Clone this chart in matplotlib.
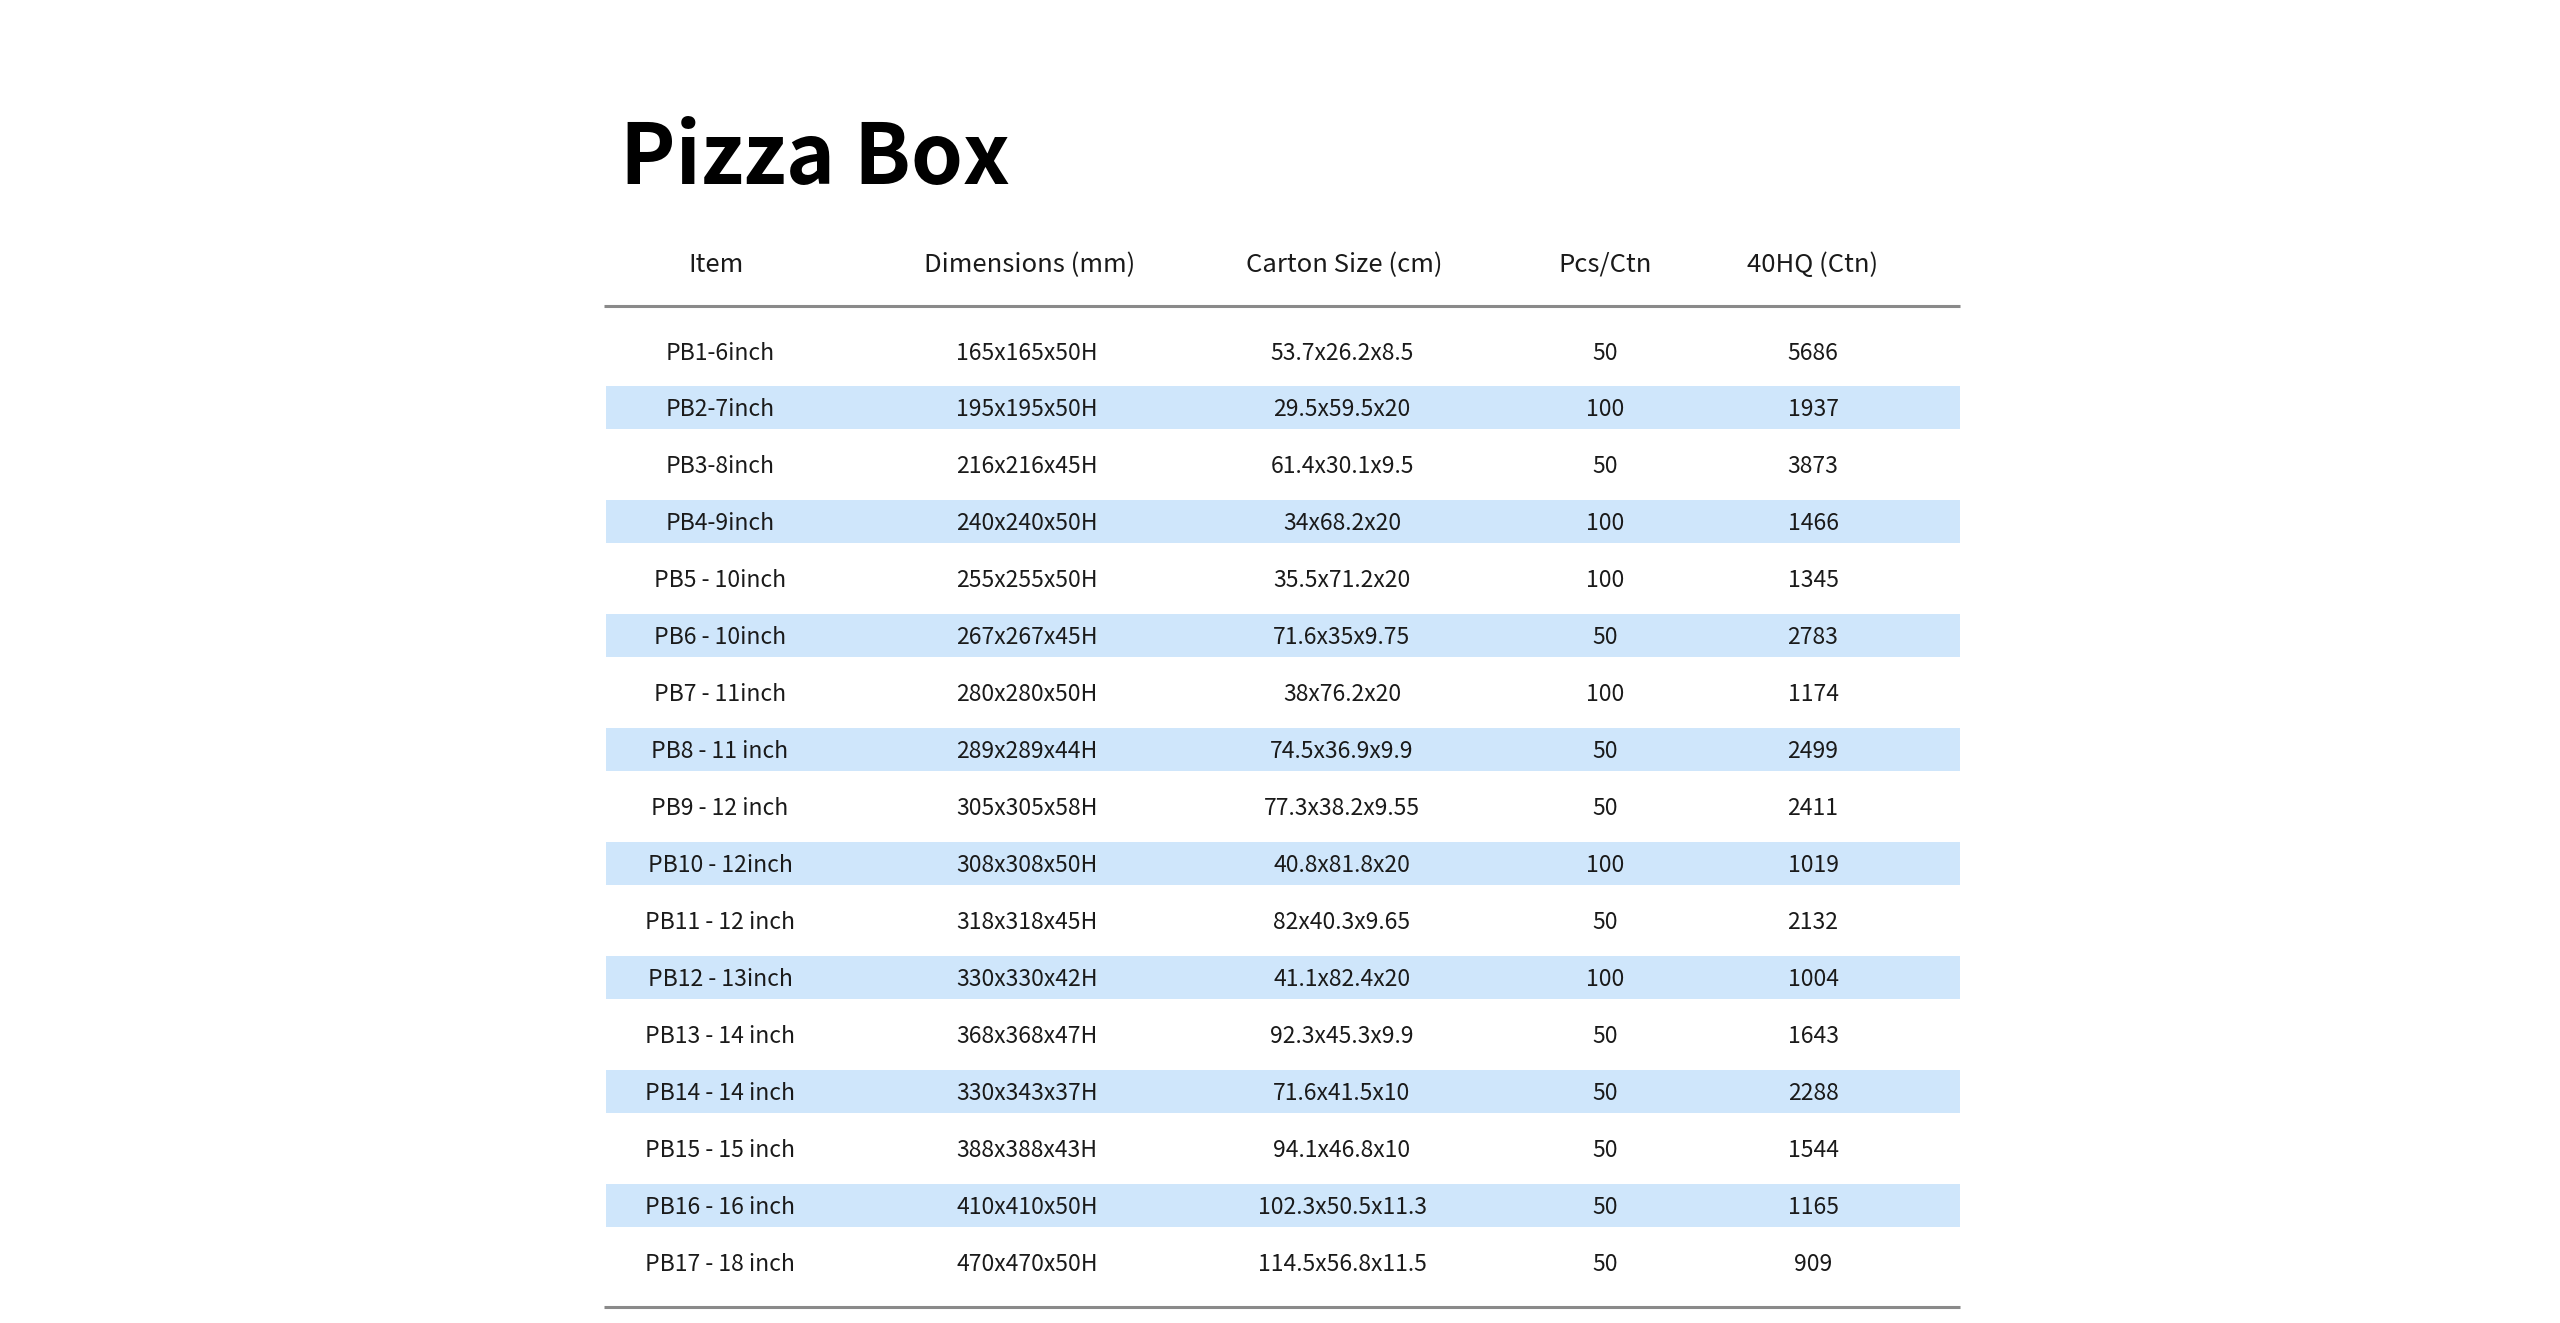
import matplotlib.pyplot as plt

plt.rcParams['font.family'] = ['Noto Sans CJK SC', 'DejaVu Sans']

title = 'Pizza Box'
headers = ['Item', 'Dimensions (mm)', 'Carton Size (cm)', 'Pcs/Ctn', '40HQ (Ctn)']

items = ['PB1-6inch', 'PB2-7inch', 'PB3-8inch', 'PB4-9inch', 'PB5 - 10inch',
         'PB6 - 10inch', 'PB7 - 11inch', 'PB8 - 11 inch', 'PB9 - 12 inch',
         'PB10 - 12inch', 'PB11 - 12 inch', 'PB12 - 13inch', 'PB13 - 14 inch',
         'PB14 - 14 inch', 'PB15 - 15 inch', 'PB16 - 16 inch', 'PB17 - 18 inch']
dimensions = ['165x165x50H', '195x195x50H', '216x216x45H', '240x240x50H',
              '255x255x50H', '267x267x45H', '280x280x50H', '289x289x44H',
              '305x305x58H', '308x308x50H', '318x318x45H', '330x330x42H',
              '368x368x47H', '330x343x37H', '388x388x43H', '410x410x50H',
              '470x470x50H']
carton_size = ['53.7x26.2x8.5', '29.5x59.5x20', '61.4x30.1x9.5', '34x68.2x20',
               '35.5x71.2x20', '71.6x35x9.75', '38x76.2x20', '74.5x36.9x9.9',
               '77.3x38.2x9.55', '40.8x81.8x20', '82x40.3x9.65', '41.1x82.4x20',
               '92.3x45.3x9.9', '71.6x41.5x10', '94.1x46.8x10', '102.3x50.5x11.3',
               '114.5x56.8x11.5']
pcs_ctn = [50, 100, 50, 100, 100, 50, 100, 50, 50, 100, 50, 100, 50, 50, 50, 50, 50]
hq40_ctn = [5686, 1937, 3873, 1466, 1345, 2783, 1174, 2499, 2411, 1019, 2132,
            1004, 1643, 2288, 1544, 1165, 909]

# layout in pixels
W, H = 2560, 1323
col_x = [720, 1027, 1342, 1605, 1813]
header_col_x = [716, 1030, 1344, 1605, 1813]
table_left, table_right = 604, 1960
row0_y = 351
pitch = 56.95
text_color = '#1a1a1a'
band_color = '#cfe6fb'

fig = plt.figure(figsize=(W / 100, H / 100), dpi=100)
ax = fig.add_axes([0, 0, 1, 1])
ax.set_xlim(0, W)
ax.set_ylim(H, 0)
ax.axis('off')

row_y = [row0_y + i * pitch for i in range(len(items))]

# striped rows
band_y = [y for i, y in enumerate(row_y) if i % 2 == 1]
ax.barh(band_y, table_right - table_left - 2, left=table_left + 2, height=43,
        color=band_color, zorder=0)

# rules
ax.hlines([306, 1307], table_left, table_right, color='#8a8a8a', lw=2.2)

ax.text(620, 184, title, fontsize=60, fontweight='bold', color='#000000',
        ha='left', va='baseline')

for x, h in zip(header_col_x, headers):
    ax.text(x, 272, h, fontsize=18.5, fontweight='medium', color=text_color,
            ha='center', va='baseline')

columns = [items, dimensions, carton_size, [str(v) for v in pcs_ctn],
           [str(v) for v in hq40_ctn]]
for x, col in zip(col_x, columns):
    for y, v in zip(row_y, col):
        ax.text(x, y + 8.5, v, fontsize=16.5, color=text_color,
                ha='center', va='baseline')

fig.savefig('out.png', dpi=100, facecolor='white')
